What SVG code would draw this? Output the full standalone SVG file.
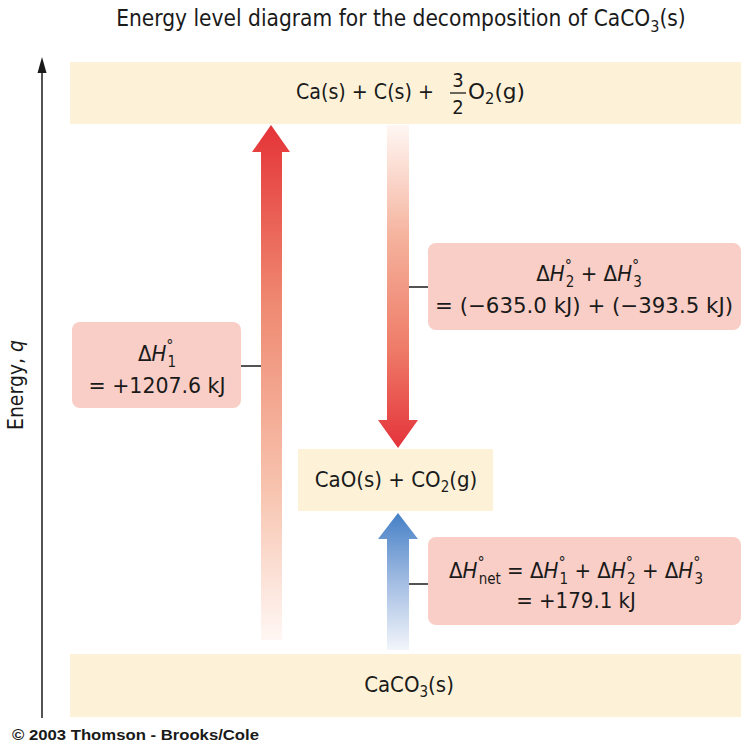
<svg xmlns="http://www.w3.org/2000/svg" width="741" height="755" viewBox="0 0 741 755">
<defs>
<style>
text{font-family:"Liberation Sans Narrow","DejaVu Sans Condensed","Liberation Sans",sans-serif;fill:#1a1a1a;}
.t{font-size:22px;}
.band{fill:#fdf2d8;}
.box{fill:#f9cec6;}
.ln{stroke:#1a1a1a;stroke-width:1.5;fill:none;}
.it{font-style:italic;}
.dg{font-size:16px;}
.sb{font-size:15px;}
</style>
<linearGradient id="gUp" gradientUnits="userSpaceOnUse" x1="0" y1="640" x2="0" y2="125">
<stop offset="0" stop-color="#fff7f4"/>
<stop offset="0.3" stop-color="#f7c2ad"/>
<stop offset="0.65" stop-color="#ef8a72"/>
<stop offset="0.95" stop-color="#e6403f"/>
<stop offset="1" stop-color="#e4333b"/>
</linearGradient>
<linearGradient id="gDown" gradientUnits="userSpaceOnUse" x1="0" y1="125" x2="0" y2="448">
<stop offset="0" stop-color="#fff7f4"/>
<stop offset="0.35" stop-color="#f5b29c"/>
<stop offset="0.7" stop-color="#ee7a67"/>
<stop offset="1" stop-color="#e4333b"/>
</linearGradient>
<linearGradient id="gBlue" gradientUnits="userSpaceOnUse" x1="0" y1="650" x2="0" y2="513">
<stop offset="0" stop-color="#f2f5fb"/>
<stop offset="0.5" stop-color="#a2bce2"/>
<stop offset="1" stop-color="#4580c6"/>
</linearGradient>
</defs>
<rect width="741" height="755" fill="#ffffff"/>

<text x="401" y="26" text-anchor="middle" font-size="22.5">Energy level diagram for the decomposition of CaCO<tspan font-size="16" dy="6">3</tspan><tspan dy="-6">(s)</tspan></text>

<g id="axis">
<line x1="42" y1="718" x2="42" y2="70" class="ln"/>
<polygon points="42,57 37.5,73 46.5,73" fill="#1a1a1a"/>
<text transform="translate(23,385) rotate(-90)" text-anchor="middle" font-size="21">Energy, <tspan class="it">q</tspan></text>
</g>

<g id="level-top">
<rect class="band" x="70" y="62" width="671" height="62"/>
<text class="t" x="296" y="99" textLength="138" lengthAdjust="spacingAndGlyphs" font-size="21">Ca(s) + C(s) +</text>
<text x="458" y="87" text-anchor="middle" font-size="20">3</text>
<line x1="450" y1="93" x2="466" y2="93" stroke="#1a1a1a" stroke-width="1.3"/>
<text x="458" y="114" text-anchor="middle" font-size="20">2</text>
<text class="t" x="468" y="99" font-size="21" textLength="57" lengthAdjust="spacingAndGlyphs">O<tspan font-size="15" dy="5">2</tspan><tspan dy="-5">(g)</tspan></text>
</g>

<g id="level-mid">
<rect class="band" x="298" y="449" width="195" height="62"/>
<text class="t" x="396" y="487" text-anchor="middle" font-size="21.5">CaO(s) + CO<tspan font-size="15" dy="5">2</tspan><tspan dy="-5">(g)</tspan></text>
</g>

<g id="level-bottom">
<rect class="band" x="70" y="654" width="671" height="63"/>
<text class="t" x="409" y="692" text-anchor="middle" font-size="21">CaCO<tspan font-size="15" dy="5">3</tspan><tspan dy="-5">(s)</tspan></text>
</g>

<g id="connectors">
<polygon fill="url(#gUp)" points="261,640 261,152 252,152 271,125 290,152 282,152 282,640"/>
<polygon fill="url(#gDown)" points="387,125 409,125 409,420 418,420 398,448 378,420 387,420"/>
<polygon fill="url(#gBlue)" points="387,650 387,539 378,539 398,513 418,539 409,539 409,650"/>
<line class="ln" x1="241" y1="366" x2="261" y2="366"/>
<line class="ln" x1="409" y1="287" x2="428" y2="287"/>
<line class="ln" x1="409" y1="584" x2="428" y2="584"/>
</g>

<g id="dh1">
<rect class="box" x="72" y="322" width="169" height="86" rx="8"/>
<text class="t" x="157" y="361" text-anchor="middle">Δ<tspan class="it">H</tspan><tspan class="dg" dy="-10">°</tspan><tspan class="sb" dx="-6" dy="16">1</tspan></text>
<text class="t" x="157" y="393" text-anchor="middle" textLength="137" lengthAdjust="spacingAndGlyphs">= +1207.6 kJ</text>
</g>

<g id="dh23">
<rect class="box" x="428" y="243" width="313" height="87" rx="8"/>
<text class="t" x="589" y="281" text-anchor="middle">Δ<tspan class="it">H</tspan><tspan class="dg" dy="-10">°</tspan><tspan class="sb" dx="-6" dy="16">2</tspan><tspan dy="-6"> + Δ</tspan><tspan class="it">H</tspan><tspan class="dg" dy="-10">°</tspan><tspan class="sb" dx="-6" dy="16">3</tspan></text>
<text class="t" x="584" y="313" text-anchor="middle" textLength="298" lengthAdjust="spacingAndGlyphs">= (−635.0 kJ) + (−393.5 kJ)</text>
</g>

<g id="dhnet">
<rect class="box" x="428" y="537" width="313" height="88" rx="8"/>
<text class="t" x="576" y="578" text-anchor="middle">Δ<tspan class="it">H</tspan><tspan class="dg" dy="-10">°</tspan><tspan class="sb" dx="-6" dy="16">net</tspan><tspan dy="-6"> = Δ</tspan><tspan class="it">H</tspan><tspan class="dg" dy="-10">°</tspan><tspan class="sb" dx="-6" dy="16">1</tspan><tspan dy="-6"> + Δ</tspan><tspan class="it">H</tspan><tspan class="dg" dy="-10">°</tspan><tspan class="sb" dx="-6" dy="16">2</tspan><tspan dy="-6"> + Δ</tspan><tspan class="it">H</tspan><tspan class="dg" dy="-10">°</tspan><tspan class="sb" dx="-6" dy="16">3</tspan></text>
<text class="t" x="576" y="608" text-anchor="middle">= +179.1 kJ</text>
</g>

<text x="12" y="740" font-size="15" font-weight="bold" textLength="247" lengthAdjust="spacingAndGlyphs" style="font-family:'Liberation Sans',sans-serif">© 2003 Thomson - Brooks/Cole</text>
</svg>
